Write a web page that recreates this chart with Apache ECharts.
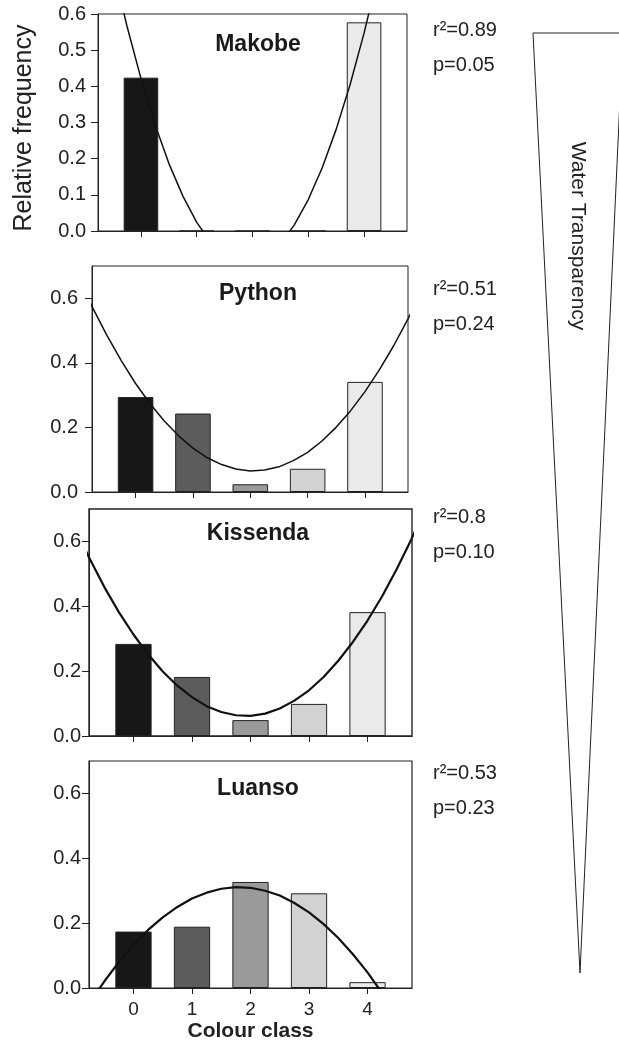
<!DOCTYPE html>
<html>
<head>
<meta charset="utf-8">
<script src="https://cdn.jsdelivr.net/npm/echarts@6/dist/echarts.min.js"></script>
<style>
  html, body { margin: 0; padding: 0; background: #fff; }
  #main { width: 619px; height: 1046px; }
</style>
</head>
<body>
<div id="main"></div>
<script>
// colour classes on the x axis
var classes = [0, 1, 2, 3, 4];
var sites = ['Makobe', 'Python', 'Kissenda', 'Luanso'];

// relative frequency per colour class, one array per site
var makobe   = [0.424, 0, 0, 0, 0.577];
var python   = [0.294, 0.243, 0.024, 0.072, 0.341];
var kissenda = [0.284, 0.182, 0.049, 0.099, 0.382];
var luanso   = [0.174, 0.189, 0.327, 0.292, 0.018];

// fitted curves at these x values
var curveX = [-1, -0.75, -0.5, -0.25, 0, 0.25, 0.5, 0.75, 1, 1.25, 1.5, 1.75, 2,
              2.25, 2.5, 2.75, 3, 3.25, 3.5, 3.75, 4, 4.25, 4.5, 4.75, 5];
var makobeFit   = [1.105, 0.907, 0.728, 0.566, 0.422, 0.295, 0.187, 0.097, 0.024, -0.031, -0.067, -0.086, -0.088,
                   -0.071, -0.036, 0.017, 0.087, 0.175, 0.281, 0.405, 0.547, 0.707, 0.885, 1.080, 1.294];
var pythonFit   = [0.666, 0.571, 0.485, 0.407, 0.336, 0.274, 0.220, 0.174, 0.136, 0.106, 0.085, 0.071, 0.065,
                   0.068, 0.078, 0.097, 0.123, 0.158, 0.201, 0.252, 0.311, 0.378, 0.453, 0.536, 0.627];
var kissendaFit = [0.642, 0.547, 0.460, 0.382, 0.313, 0.252, 0.199, 0.155, 0.120, 0.092, 0.074, 0.064, 0.062,
                   0.069, 0.085, 0.109, 0.141, 0.182, 0.232, 0.290, 0.356, 0.431, 0.515, 0.607, 0.707];
var luansoFit   = [-0.119, -0.046, 0.020, 0.080, 0.133, 0.179, 0.218, 0.250, 0.276, 0.294, 0.306, 0.311, 0.309,
                   0.300, 0.285, 0.262, 0.233, 0.197, 0.154, 0.104, 0.048, -0.016, -0.086, -0.163, -0.247];

var r2Vals = ['0.89', '0.51', '0.8', '0.53'];
var pVals  = ['0.05', '0.24', '0.10', '0.23'];

// y tick labels
var yTicksFirst = [0, 0.1, 0.2, 0.3, 0.4, 0.5, 0.6];
var yTicks = [0, 0.2, 0.4, 0.6];

var barData = [makobe, python, kissenda, luanso];
var fitData = [makobeFit, pythonFit, kissendaFit, luansoFit];

// layout of the four panels
var layout = [
  {top: 14,  height: 217, left: 98, right: 212, xMin: -0.77, xMax: 4.77, yMax: 0.6, lw: 1.5, bw: 1, labMargin: 12, titleY: 45,  statY: 30},
  {top: 266, height: 226, left: 92, right: 211, xMin: -0.76, xMax: 4.75, yMax: 0.7, lw: 1.5, bw: 1, labMargin: 14, titleY: 294, statY: 289},
  {top: 509, height: 227, left: 89, right: 207, xMin: -0.76, xMax: 4.76, yMax: 0.7, lw: 2.2, bw: 1.4, labMargin: 8, titleY: 534, statY: 517},
  {top: 761, height: 227, left: 89, right: 207, xMin: -0.76, xMax: 4.76, yMax: 0.7, lw: 2.2, bw: 1.2, labMargin: 8, titleY: 789, statY: 773}
];

var barColors = ['#171717', '#5c5c5c', '#9a9a9a', '#d1d2d1', '#eaeaea'];
var font = 'Liberation Sans, Arial, Helvetica, sans-serif';
var ink = '#222';

var chart = echarts.init(document.getElementById('main'));

var grids = [], xAxes = [], yAxes = [], series = [], graphics = [];

layout.forEach(function (p, k) {
  var plotW = 619 - p.left - p.right;
  var barW = 0.62 * plotW / (p.xMax - p.xMin);
  var last = k === layout.length - 1;

  grids.push({
    left: p.left, right: p.right, top: p.top, height: p.height,
    show: true, borderColor: ink, borderWidth: p.bw, containLabel: false
  });

  xAxes.push({
    gridIndex: k, type: 'value', min: p.xMin, max: p.xMax,
    axisLine: {show: true, onZero: false, lineStyle: {color: ink, width: 1}},
    axisTick: {show: true, inside: false, length: 6, customValues: classes, lineStyle: {color: ink}},
    axisLabel: {show: last, customValues: classes, margin: 12, fontSize: 19, fontFamily: font, color: ink,
                formatter: function (v) { return String(v); }},
    splitLine: {show: false},
    name: last ? 'Colour class' : '',
    nameLocation: 'middle', nameGap: 33,
    nameTextStyle: {fontSize: 21, fontWeight: 'bold', fontFamily: font, color: ink}
  });

  var ticks = k === 0 ? yTicksFirst : yTicks;
  yAxes.push({
    gridIndex: k, type: 'value', min: 0, max: p.yMax,
    axisLine: {show: true, onZero: false, lineStyle: {color: ink, width: 1}},
    axisTick: {show: true, inside: false, length: 7, customValues: ticks, lineStyle: {color: ink}},
    axisLabel: {customValues: ticks, margin: p.labMargin, fontSize: 20, fontFamily: font, color: ink,
                formatter: function (v) { return v.toFixed(1); }},
    splitLine: {show: false}
  });

  series.push({
    type: 'bar', xAxisIndex: k, yAxisIndex: k, barWidth: barW,
    data: barData[k].map(function (v, i) {
      return {value: [classes[i], v], itemStyle: {color: barColors[i]}};
    }),
    itemStyle: {borderColor: ink, borderWidth: 1},
    z: 2
  });

  series.push({
    type: 'line', xAxisIndex: k, yAxisIndex: k, showSymbol: false, clip: true,
    data: curveX.map(function (x, i) { return [x, fitData[k][i]]; }),
    lineStyle: {color: '#111', width: p.lw},
    z: 3
  });

  graphics.push({
    type: 'text', x: 258, y: p.titleY,
    style: {text: sites[k], font: 'bold 23px ' + font, fill: '#1a1a1a', textAlign: 'center', textVerticalAlign: 'middle'}
  });
  graphics.push({
    type: 'text', x: 433, y: p.statY,
    style: {text: 'r\u00b2=' + r2Vals[k], font: '20px ' + font, fill: ink, textAlign: 'left', textVerticalAlign: 'middle'}
  });
  graphics.push({
    type: 'text', x: 433, y: p.statY + 35,
    style: {text: 'p=' + pVals[k], font: '20px ' + font, fill: ink, textAlign: 'left', textVerticalAlign: 'middle'}
  });
});

// y axis title of the first panel
graphics.push({
  type: 'text', x: 24, y: 128, rotation: Math.PI / 2,
  style: {text: 'Relative frequency', font: '25px ' + font, fill: ink, textAlign: 'center', textVerticalAlign: 'middle'}
});

// water transparency wedge
graphics.push({
  type: 'polygon',
  shape: {points: [[533, 33], [623, 33], [580, 973]]},
  style: {fill: 'none', stroke: ink, lineWidth: 1}
});
graphics.push({
  type: 'text', x: 578, y: 236, rotation: -Math.PI / 2,
  style: {text: 'Water Transparency', font: '21px ' + font, fill: ink, textAlign: 'center', textVerticalAlign: 'middle'}
});

chart.setOption({
  animation: false,
  backgroundColor: '#fff',
  grid: grids,
  xAxis: xAxes,
  yAxis: yAxes,
  series: series,
  graphic: graphics
});
</script>
</body>
</html>
